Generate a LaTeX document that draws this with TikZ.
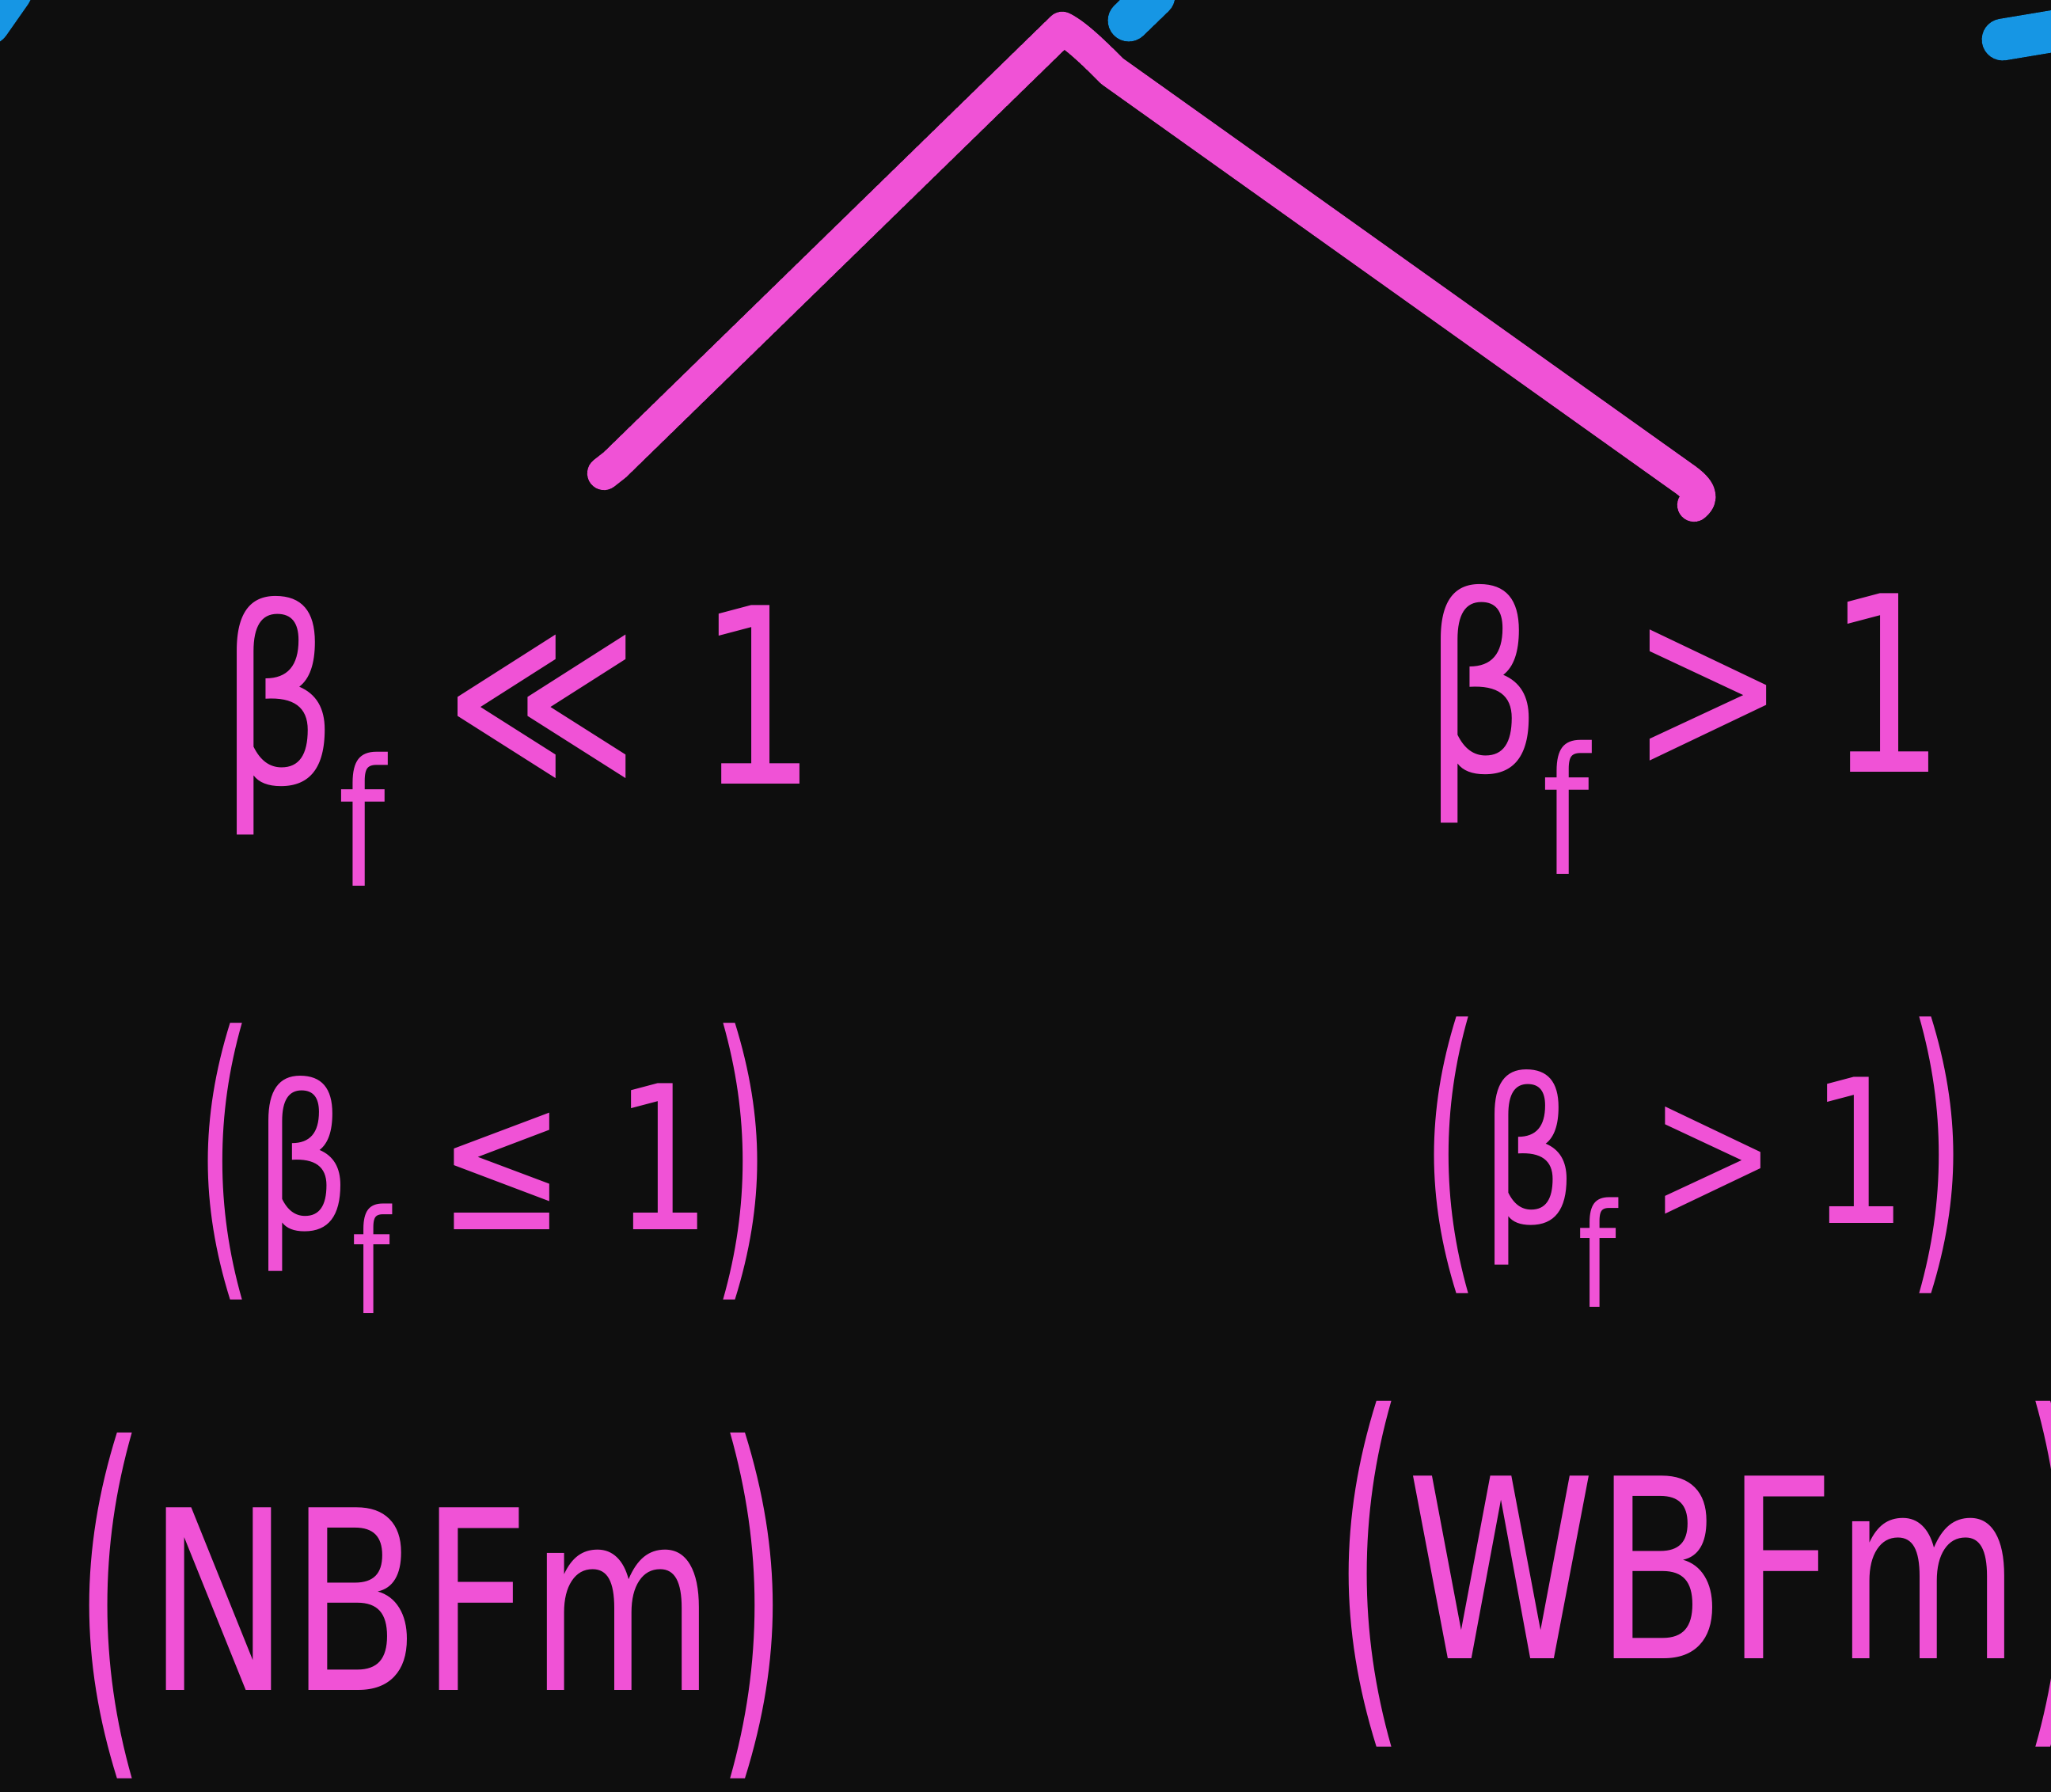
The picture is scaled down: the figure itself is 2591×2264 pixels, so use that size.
\documentclass[tikz,border=0pt]{standalone}
\usepackage{fontspec}
\newfontfamily\hand[FakeStretch=0.76]{DejaVu Sans}
\definecolor{bg}{RGB}{14,14,14}
\definecolor{ink}{RGB}{240,82,214}
\definecolor{blueink}{RGB}{22,150,228}
\newcommand\bsub{β\raisebox{-0.42em}{\scalebox{0.72}{f}}}
\newcommand\lp{\raisebox{-0.15em}{\scalebox{1}[1.55]{(}}}
\newcommand\rp{\raisebox{-0.15em}{\scalebox{1}[1.55]{)}}}
\begin{document}
\begin{tikzpicture}[x=0.01cm,y=-0.01cm,
  pinkline/.style={draw=ink,line width=12pt,line cap=round,line join=round},
  blueline/.style={draw=blueink,line width=15pt,line cap=round},
  lbl/.style={text=ink,inner sep=0pt,anchor=base},
  bigtxt/.style={lbl,font=\hand\fontsize{88}{96}\selectfont},
  midtxt/.style={lbl,font=\hand\fontsize{72}{80}\selectfont},
  captxt/.style={lbl,font=\hand\fontsize{90}{100}\selectfont}]
\fill[bg] (0,0) rectangle (2591,2264);
\useasboundingbox (0,0) rectangle (2591,2264);
% blue fragments at the top edge
\draw[blueline] (-14,30) -- (14,-10);
\draw[blueline] (1458,-5) -- (1426,26);
\draw[blueline] (2530,50) -- (2620,35);
% tree
\coordinate (apex) at (1342,36);
\coordinate (lbend) at (777,587);
\coordinate (lend) at (763,598);
\coordinate (rbend) at (2125,603);
\coordinate (rend) at (2140,638);
\draw[pinkline] (lend) -- (lbend) -- (apex) .. controls (1360,45) and (1385,70) .. (1405,90) -- (rbend) .. controls (2150,620) and (2150,630) .. (rend);
% labels
\node[bigtxt] (l1) at (655,990) {\bsub{} ≪ 1};
\node[bigtxt] (r1) at (2128,975) {\bsub{}\,>\,1};
\node[midtxt] (l2) at (610,1553) {\lp\bsub{} ≤ 1\rp};
\node[midtxt] (r2) at (2140,1545) {\lp\bsub{}\,>\,1\rp};
\node[captxt] (l3) at (545,2135) {\lp NBFm\rp};
\node[captxt] (r3) at (2165,2095) {\lp WBFm\rp};
\end{tikzpicture}
\end{document}
